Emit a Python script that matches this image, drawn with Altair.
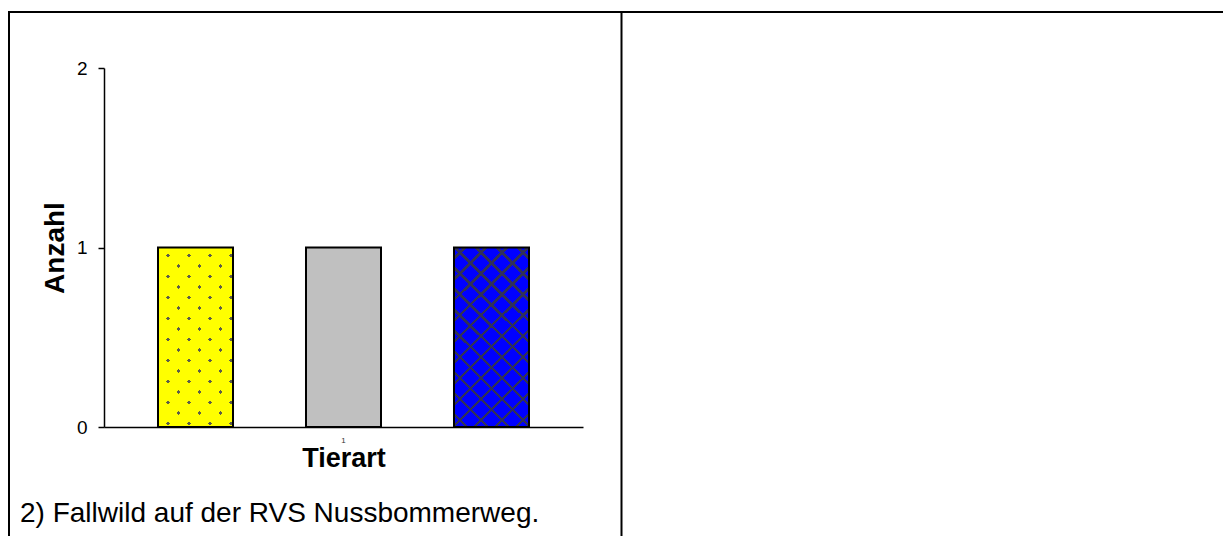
import altair as alt
import pandas as pd

# ---- data ----
categories = ["1"]
series = ["Reihe 1", "Reihe 2", "Reihe 3"]
values = [1, 1, 1]
colors = ["#FFFF00", "#C0C0C0", "#0000FF"]
y_ticks = [0, 1, 2]
x_title = "Tierart"
y_title = "Anzahl"
caption = "2) Fallwild auf der RVS Nussbommerweg."

FONT = "Liberation Sans"
W, H = 479, 359           # plot area
PAD = {"left": 96, "top": 60, "right": 640, "bottom": 109}

df = pd.DataFrame({
    "kategorie": [categories[0]] * len(series),
    "serie": series,
    "anzahl": values,
})


def stripes(bg, line, period, phase, half, direction):
    """Linear-gradient fill that draws 45 degree stripes across a bar."""
    if direction == 1:
        x1, y1, x2, y2 = 0, 0, 0.504, 1.207
    else:
        x1, y1, x2, y2 = 1, 0, 0.496, 1.207
    stops = [{"offset": 0, "color": bg}]
    c = phase
    while c - half < 1:
        a = max(c - half, 0.0)
        b = min(c + half, 1.0)
        if b > 0:
            stops += [
                {"offset": round(a, 5), "color": bg},
                {"offset": round(a, 5), "color": line},
                {"offset": round(b, 5), "color": line},
                {"offset": round(b, 5), "color": bg},
            ]
        c += period
    stops.append({"offset": 1, "color": bg})
    return {"gradient": "linear", "x1": x1, "y1": y1, "x2": x2, "y2": y2, "stops": stops}


PERIOD = 0.0825
CLEAR = "rgba(255,255,255,0)"
CLEAR_Y = "rgba(255,255,0,0)"

x_enc = alt.X(
    "kategorie:N",
    scale=alt.Scale(paddingInner=0, paddingOuter=0),
    axis=alt.Axis(
        title=x_title, labelAngle=0, ticks=False, labelFontSize=8, labelColor="#333333",
        labelPadding=9, titleFontSize=27, titleFontWeight="bold", titleFont=FONT,
        titlePadding=1, titleColor="black", domainColor="black", domainWidth=1.5,
        labelFont=FONT,
    ),
)
xo_enc = alt.XOffset("serie:N", sort=series,
                     scale=alt.Scale(domain=series, paddingInner=0.4932, paddingOuter=0.3649))
y_enc = alt.Y(
    "anzahl:Q",
    scale=alt.Scale(domain=[0, 2], nice=False),
    axis=alt.Axis(
        values=y_ticks, labelExpr="format(datum.value, 'd')", title=y_title, grid=False,
        labelOverlap=False,
        tickSize=6, tickColor="black", tickWidth=1.5, domainColor="black", domainWidth=1.5,
        labelFontSize=19, labelFont=FONT, labelColor="black", labelPadding=11,
        titleFontSize=28, titleFontWeight="bold", titleFont=FONT, titleColor="black",
        titlePadding=7,
    ),
)

base = alt.Chart(df).encode(x=x_enc, xOffset=xo_enc, y=y_enc)

bars = base.mark_bar().encode(
    color=alt.Color("serie:N", scale=alt.Scale(domain=series, range=colors), legend=None)
)

yellow = base.transform_filter(alt.datum.serie == series[0])
dots_a = yellow.mark_bar(fill=stripes(CLEAR_Y, "#5e5e48", PERIOD, 0.07, 0.0085, 1))
dots_b = yellow.mark_bar(fill=stripes("#FFFF00", CLEAR_Y, PERIOD, 0.04, 0.0085, 2))

blue = base.transform_filter(alt.datum.serie == series[2])
hatch_a = blue.mark_bar(fill=stripes(CLEAR, "#30305a", PERIOD, 0.043, 0.0062, 1))
hatch_b = blue.mark_bar(fill=stripes(CLEAR, "#30305a", PERIOD, 0.043, 0.0062, 2))

outline = base.mark_bar(fillOpacity=0, stroke="black", strokeWidth=2)

one = alt.Chart(pd.DataFrame({"caption": [caption]}))
top_rule = one.mark_rule(color="black", strokeWidth=2).encode(
    x=alt.value(-96), x2=alt.value(1127), y=alt.value(-56))
left_rule = one.mark_rule(color="black", strokeWidth=2).encode(
    x=alt.value(-95), y=alt.value(-57), y2=alt.value(470))
mid_rule = one.mark_rule(color="black", strokeWidth=2).encode(
    x=alt.value(517.5), y=alt.value(-57), y2=alt.value(470))
cap_text = one.mark_text(align="left", baseline="alphabetic", fontSize=28, font=FONT,
                         color="black").encode(
    text="caption:N", x=alt.value(-84), y=alt.value(454))

chart = alt.layer(
    bars, dots_a, dots_b, hatch_a, hatch_b, outline,
    top_rule, left_rule, mid_rule, cap_text,
).properties(
    width=W, height=H,
    autosize=alt.AutoSizeParams(type="none"),
    padding=PAD,
    background="white",
).configure_view(strokeWidth=0)

chart.save("out.html", embed_options={"renderer": "svg", "actions": False})
